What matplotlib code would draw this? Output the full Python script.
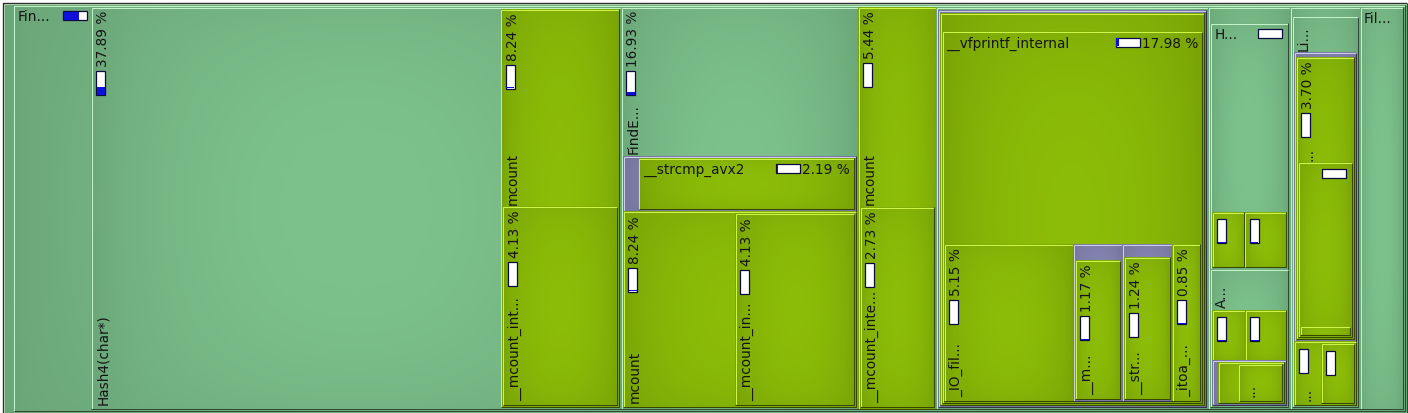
import numpy as np
import matplotlib
matplotlib.use("Agg")
import matplotlib.pyplot as plt
from matplotlib.patches import Rectangle

# ---------------- data (callee map, costs in % of total) ----------------
names = ["", "Fin...", "Hash4(char*)", "mcount", "__mcount_int...", "FindE...", "", "__strcmp_avx2",
         "mcount", "__mcount_in...", "mcount", "__mcount_inte...", "", "", "", "__vfprintf_internal",
         "_IO_fil...", "", "__m...", "", "__str...", "_itoa_...", "", "H...", "", "",
         "A...", "", "", "", "", "", "...", "", "Li...", "", "...", "", "...", "", "Fil...", ""]
parents = [-1, 0, 1, 2, 3, 1, 5, 6, 5, 8, 1, 10, 1, 12, 13, 14, 15, 15, 17, 15, 19, 15, 1, 22, 23, 23,
           22, 26, 27, 27, 26, 30, 31, 1, 33, 34, 35, 36, 34, 38, 1, 37]
costs = [99.8, 99.19, 37.89, 8.55, 4.3, 16.94, 2.38, 2.24, 8.3, 4.32, 5.58, 2.8, 19.44, 19.38, 19.32, 18.5,
         3.98, 1.51, 1.37, 1.54, 1.43, 0.86, 5.86, 3.63, 0.37, 0.465, 2.02, 0.755, 0.34, 0.415, 0.68,
         0.64, 0.45, 5.0, 4.9, 3.67, 3.64, 2.29, 0.8, 0.455, 3.07, 0.12]
pct_labels = ["", "", "37.89 %", "8.24 %", "4.13 %", "16.93 %", "", "2.19 %", "8.24 %", "4.13 %",
              "5.44 %", "2.73 %", "", "", "", "17.98 %", "5.15 %", "", "1.17 %", "", "1.24 %", "0.85 %",
              "", "", "", "", "", "", "", "", "", "", "", "", "", "", "3.70 %", "", "", "", "", ""]
kinds = ["g", "g", "g", "o", "o", "g", "p", "o", "o", "o", "o", "o", "g", "p", "o", "o", "o", "p", "o",
         "p", "o", "o", "g", "g", "o", "o", "g", "grp", "o", "o", "p", "o", "o", "g", "g", "p", "o", "o",
         "o", "o", "g", "o"]
label_dir = ["", "h", "v", "v", "v", "v", "", "h", "v", "v", "v", "v", "", "", "", "h", "v", "", "v", "",
             "v", "v", "", "h", "v", "v", "v", "", "v", "v", "", "", "v", "", "v", "", "v", "h", "v", "v",
             "h", ""]
bar_fill = [None, 0.65, 0.33, 0.05, 0.04, 0.15, None, 0.03, 0.05, 0.04, 0.02, 0.04, None, None, None, 0.12,
            0.02, None, 0.06, None, 0.04, 0.05, None, 0.0, 0.04, 0.04, None, None, 0.04, 0.04, None,
            None, None, None, None, None, 0.03, 0.03, 0.04, 0.03, None, None]
split_dir = {38: "h"}

# ---------------- style ----------------
W, H, DPI = 1408, 413, 100
COLORS = {"g": np.array([0.49, 0.76, 0.55]),
          "o": np.array([0.55, 0.74, 0.03]),
          "p": np.array([0.53, 0.53, 0.71])}
LIGHT = {"g": np.array([0.76, 0.95, 0.78]),
         "o": np.array([0.80, 0.96, 0.28]),
         "p": np.array([0.80, 0.80, 0.92])}
PAD = 2.0
FS = 9.8

fig = plt.figure(figsize=(W / DPI, H / DPI), dpi=DPI, facecolor="white")
ax = fig.add_axes([0, 0, 1, 1])
ax.set_xlim(0, W)
ax.set_ylim(H, 0)
ax.axis("off")
renderer = fig.canvas.get_renderer()

children = {i: [] for i in range(len(names))}
for i, p in enumerate(parents):
    if p >= 0:
        children[p].append(i)

zc = [1.0]


def nz():
    zc[0] += 0.01
    return zc[0]


def cushion(x0, y0, x1, y1, col):
    w, h = max(x1 - x0, 1), max(y1 - y0, 1)
    nx, ny = max(int(w / 3), 4), max(int(h / 3), 4)
    u = (np.arange(nx) + 0.5) / nx
    v = (np.arange(ny) + 0.5) / ny
    cu = (1 - (2 * u - 1) ** 2) ** 0.6
    cv = (1 - (2 * v - 1) ** 2) ** 0.6
    f = 0.85 + 0.15 * np.outer(0.5 + 0.5 * cv, cu)
    img = np.clip(col[None, None, :] * f[:, :, None], 0, 1)
    ax.imshow(img, extent=(x0, x1, y1, y0), interpolation="bilinear", aspect="auto", zorder=nz())


def frame(x0, y0, x1, y1, k):
    light = LIGHT[k]
    dark = COLORS[k] * 0.38
    z = nz()
    ax.add_patch(Rectangle((x0 + 0.5, y0 + 0.5), x1 - x0 - 1, y1 - y0 - 1, fill=False,
                           ec=light, lw=0.75, zorder=z))
    ax.plot([x0, x1 - 0.5, x1 - 0.5], [y1 - 0.5, y1 - 0.5, y0], color=dark, lw=0.75, zorder=z,
            solid_capstyle="butt")


def bar(x, y, fill, vertical):
    L, T = 24, 9
    z = nz()
    if vertical:
        ax.add_patch(Rectangle((x, y), T, L, fc="white", ec="#0a0a40", lw=0.9, zorder=z))
        if fill and fill > 0:
            ax.add_patch(Rectangle((x + 0.5, y + L * (1 - fill)), T - 1, L * fill - 0.5,
                                   fc="#1010dd", ec="none", zorder=z + 0.001))
    else:
        ax.add_patch(Rectangle((x, y), L, T, fc="white", ec="#0a0a40", lw=0.9, zorder=z))
        if fill and fill > 0:
            ax.add_patch(Rectangle((x + 0.5, y + 0.5), L * fill, T - 1,
                                   fc="#1010dd", ec="none", zorder=z + 0.001))


def extent(t):
    bb = t.get_window_extent(renderer)
    (a, b), (c, d) = ax.transData.inverted().transform([[bb.x0, bb.y0], [bb.x1, bb.y1]])
    return min(a, c), min(b, d), max(a, c), max(b, d)


def draw_label(i, sx0, sy0, sx1, sy1):
    d = label_dir[i]
    name, pct, bf = names[i], pct_labels[i], bar_fill[i]
    tk = dict(fontsize=FS, color="#141414", family="DejaVu Sans", zorder=50)
    if d == "h":
        if name:
            ax.text(sx0 + 2, sy0 + 3, name, ha="left", va="top", **tk)
        right = sx1 - 4
        if pct:
            t = ax.text(sx1 - 2, sy0 + 3, pct, ha="right", va="top", **tk)
            right = extent(t)[0] - 2
        if bf is not None:
            bar(right - 24, sy0 + 4, bf, False)
    elif d == "v":
        if name:
            ax.text(sx0 + 3, sy1 - 2, name, rotation=90, rotation_mode="anchor",
                    ha="left", va="top", **tk)
        top = sy0 + 5
        if pct:
            t = ax.text(sx0 + 3, sy0 + 2, pct, rotation=90, rotation_mode="anchor",
                        ha="right", va="top", **tk)
            top = extent(t)[3] + 4
        if bf is not None:
            bar(sx0 + 3, top, bf, True)


def layout(i, x0, y0, x1, y1):
    k = kinds[i]
    if k != "grp":
        cushion(x0, y0, x1, y1, COLORS[k])
        frame(x0, y0, x1, y1, k)
        ix0, iy0, ix1, iy1 = x0 + PAD, y0 + PAD, x1 - PAD, y1 - PAD
    else:
        ix0, iy0, ix1, iy1 = x0, y0, x1, y1
    kids = children[i]
    w, h = ix1 - ix0, iy1 - iy0
    if not kids:
        draw_label(i, ix0, iy0, ix1, iy1)
        return
    ksum = sum(costs[c] for c in kids)
    frac = 1.0 if k == "grp" else min(ksum / costs[i], 1.0)
    d = split_dir.get(i, "h" if w >= h else "v")
    if d == "h":
        bx0 = ix1 - frac * w
        self_area = (ix0, iy0, bx0, iy1)
        block = (bx0, iy0, ix1, iy1)
    else:
        by0 = iy1 - frac * h
        self_area = (ix0, iy0, ix1, by0)
        block = (ix0, by0, ix1, iy1)
    if k != "grp":
        draw_label(i, *self_area)
    bw, bh = block[2] - block[0], block[3] - block[1]
    pos = block[0] if bw >= bh else block[1]
    for c in kids:
        share = costs[c] / ksum
        if bw >= bh:
            nxt = pos + share * bw
            layout(c, pos, block[1], nxt, block[3])
        else:
            nxt = pos + share * bh
            layout(c, block[0], pos, block[2], nxt)
        pos = nxt


layout(0, 3, 3, 1407, 413)
ax.plot([3, 3, 1406], [413, 3, 3], color="#303030", lw=1.0, zorder=100)
ax.set_xlim(0, W)
ax.set_ylim(H, 0)
fig.savefig("out.png", dpi=DPI, facecolor="white")
